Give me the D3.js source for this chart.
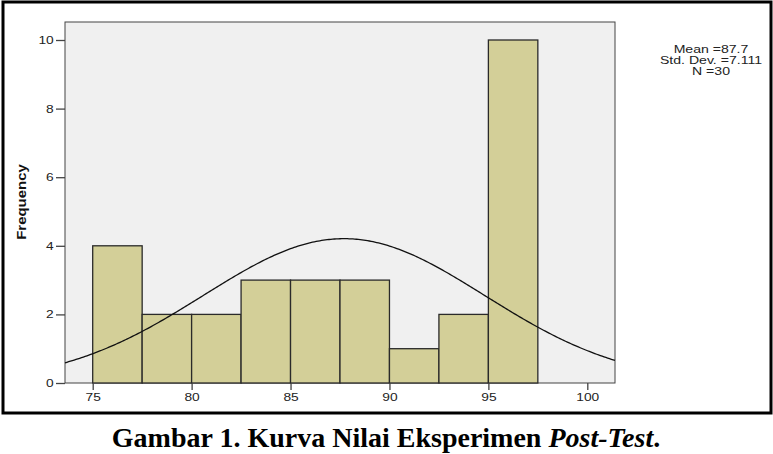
<!DOCTYPE html>
<html><head><meta charset="utf-8">
<script src="https://cdn.jsdelivr.net/npm/d3@7"></script>
<style>body{margin:0;background:#fff}svg{display:block}</style>
</head><body>
<svg id="c" width="773" height="454"></svg>
<script>
const binStarts = [75, 77.5, 80, 82.5, 85, 87.5, 90, 92.5, 95];
const binWidth = 2.5;
const frequencies = [4, 2, 2, 3, 3, 3, 1, 2, 10];
const xTicks = [75, 80, 85, 90, 95, 100];
const yTicks = [0, 2, 4, 6, 8, 10];
const mean = 87.7, sd = 7.111, n = 30;
const statsLines = ["Mean =87.7", "Std. Dev. =7.111", "N =30"];

const svg = d3.select("#c");
const L = 65, R = 615, T = 22, B = 383;
const x = d3.scaleLinear().domain([73.6, 101.4]).range([L, R]);
const y = d3.scaleLinear().domain([0, 10]).range([B, 40]);
const SANS = "Liberation Sans, Arial, sans-serif";

// outer border
svg.append("rect").attr("x", 3).attr("y", 2).attr("width", 768).attr("height", 411)
  .attr("fill", "none").attr("stroke", "#000").attr("stroke-width", 3);

// plot bg
svg.append("rect").attr("x", L).attr("y", T).attr("width", R - L).attr("height", B - T)
  .attr("fill", "#f0f0f0").attr("stroke", "#444").attr("stroke-width", 1);

// bars
svg.append("g").selectAll("rect").data(binStarts).join("rect")
  .attr("x", d => x(d)).attr("width", d => x(d + binWidth) - x(d))
  .attr("y", (d, i) => y(frequencies[i])).attr("height", (d, i) => B - y(frequencies[i]))
  .attr("fill", "#d3cf98").attr("stroke", "#2a2a2a").attr("stroke-width", 1.3);

// normal curve
const pts = d3.range(0, 301).map(i => {
  const v = 73.6 + (101.4 - 73.6) * i / 300;
  return [v, n * binWidth * Math.exp(-0.5 * ((v - mean) / sd) ** 2) / (sd * Math.sqrt(2 * Math.PI))];
});
svg.append("path").datum(pts).attr("fill", "none").attr("stroke", "#111").attr("stroke-width", 1.3)
  .attr("d", d3.line().x(d => x(d[0])).y(d => y(d[1])));

// axes
const yAxis = svg.append("g").attr("transform", `translate(${L},0)`)
  .call(d3.axisLeft(y).tickValues(yTicks).tickSize(9).tickPadding(0).tickFormat(d3.format("d")));
const xAxis = svg.append("g").attr("transform", `translate(0,${B})`)
  .call(d3.axisBottom(x).tickValues(xTicks).tickSize(7).tickPadding(3).tickFormat(d3.format("d")));
[yAxis, xAxis].forEach(g => {
  g.select(".domain").remove();
  g.selectAll("line").attr("stroke", "#444").attr("stroke-width", 1.3);
  g.selectAll("text").attr("font-family", SANS).attr("font-size", 11).attr("fill", "#222")
    .attr("transform", "scale(1.25,1)");
});

// y label
svg.append("text").attr("transform", "translate(26,202) rotate(-90) scale(1.15,1)")
  .attr("text-anchor", "middle").attr("font-family", SANS)
  .attr("font-weight", "bold").attr("font-size", 13).attr("fill", "#111").text("Frequency");

// stats
svg.append("g").selectAll("text").data(statsLines).join("text")
  .attr("transform", (d, i) => `translate(711,${53 + i * 11}) scale(1.28,1)`).attr("text-anchor", "middle")
  .attr("font-family", SANS).attr("font-size", 11).attr("fill", "#222")
  .text(d => d);

// caption
const cap = svg.append("text").attr("x", 386).attr("y", 447).attr("text-anchor", "middle")
  .attr("font-family", "Liberation Serif, Times New Roman, serif").attr("font-weight", "bold")
  .attr("font-size", 28).attr("fill", "#000");
cap.append("tspan").text("Gambar 1. Kurva Nilai Eksperimen ");
cap.append("tspan").attr("font-style", "italic").text("Post-Test");
cap.append("tspan").text(".");
</script>
</body></html>
